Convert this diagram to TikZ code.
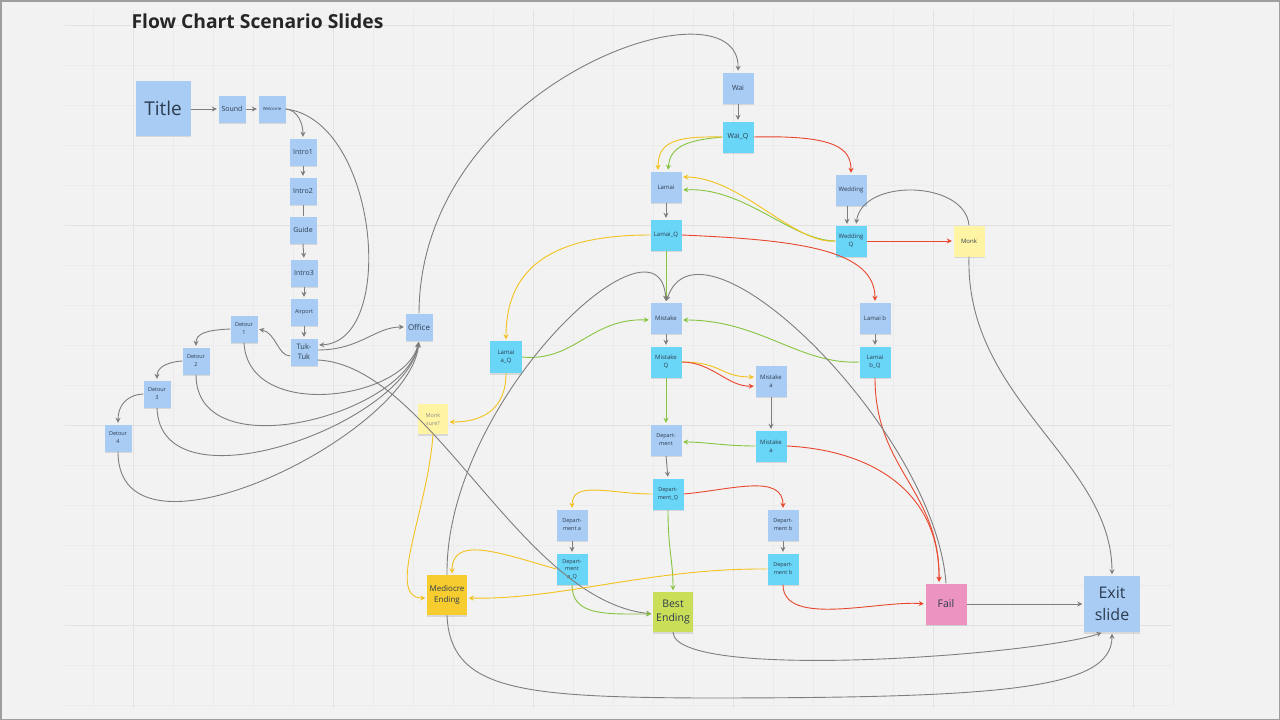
\documentclass[tikz,border=0pt]{standalone}
\usepackage{fontspec}
\setmainfont{Open Sans}
\usetikzlibrary{arrows.meta,shadows}
\definecolor{bgc}{HTML}{F2F2F2}
\definecolor{gminor}{HTML}{EBEBEB}
\definecolor{gmajor}{HTML}{E2E2E2}
\definecolor{cblue}{HTML}{A9CCF4}
\definecolor{ccyan}{HTML}{6AD6F7}
\definecolor{cpale}{HTML}{FFF4A3}
\definecolor{cgold}{HTML}{F6CC2E}
\definecolor{clime}{HTML}{CBDE58}
\definecolor{cpink}{HTML}{EC94BF}
\definecolor{ctext}{HTML}{2C3C50}
\definecolor{cgray}{HTML}{7E7E7E}
\definecolor{cyel}{HTML}{F4C21C}
\definecolor{cgrn}{HTML}{86C440}
\definecolor{cred}{HTML}{E8472D}
\tikzset{
  note/.style={rectangle, inner sep=0pt, minimum size=31pt, align=center,
    text=ctext, font=\fontsize{6}{7.5}\selectfont,
    drop shadow={shadow xshift=0.4pt,shadow yshift=-1.6pt,opacity=0.22}},
  bnote/.style={note, fill=cblue},
  cnote/.style={note, fill=ccyan},
  pnote/.style={note, fill=cpale},
  conn/.style={line width=0.9pt, shorten >=1.5pt, -{Stealth[length=5pt,width=5pt]}},
  gar/.style={conn, draw=cgray},
  yar/.style={conn, draw=cyel},
  nar/.style={conn, draw=cgrn},
  rar/.style={conn, draw=cred},
}
\begin{document}
\begin{tikzpicture}[x=1pt,y=-1pt]
\fill[bgc] (0,0) rectangle (1280,720);
\useasboundingbox (0,0) rectangle (1280,720);
% grid
\foreach \x in {93,133,...,1173} \draw[gminor, line width=0.5pt] (\x,10) -- (\x,708);
\foreach \y in {25,65,...,705} \draw[gminor, line width=0.5pt] (65,\y) -- (1172,\y);
\foreach \x in {133,333,...,1133} \draw[gmajor, line width=0.7pt] (\x,10) -- (\x,708);
\foreach \y in {25,225,425,625} \draw[gmajor, line width=0.7pt] (65,\y) -- (1172,\y);
\draw[black!38, line width=1.5pt] (0.75,0.75) rectangle (1279.25,719.25);

\node[anchor=west, font=\bfseries\fontsize{19.3}{22}\selectfont, text=black!85] (heading) at (128,21) {Flow Chart Scenario Slides};

% left column
\node[bnote, minimum size=55pt, font=\fontsize{19}{22}\selectfont] (title) at (163,108) {Title};
\node[bnote, minimum size=27pt, font=\fontsize{7}{8}\selectfont] (sound) at (232,109) {Sound};
\node[bnote, minimum size=27pt, font=\fontsize{4.3}{5}\selectfont] (welcome) at (272,109) {Welcome};
\node[bnote, minimum size=27pt, font=\fontsize{7}{8}\selectfont] (intro1) at (303,152) {Intro1};
\node[bnote, minimum size=27pt, font=\fontsize{7}{8}\selectfont] (intro2) at (303,191) {Intro2};
\node[bnote, minimum size=27pt, font=\fontsize{7}{8}\selectfont] (guide) at (303,230) {Guide};
\node[bnote, minimum size=27pt, font=\fontsize{7}{8}\selectfont] (intro3) at (304,273) {Intro3};
\node[bnote, minimum size=27pt, font=\fontsize{5.5}{6.5}\selectfont] (airport) at (304,312) {Airport};
\node[bnote, minimum size=27pt, font=\fontsize{7.5}{10}\selectfont] (tuk) at (304,352) {Tuk-\\Tuk};
\node[bnote, minimum size=27pt, font=\fontsize{5.5}{8}\selectfont] (d1) at (244,329) {Detour\\1};
\node[bnote, minimum size=27pt, font=\fontsize{5.5}{8}\selectfont] (d2) at (196,361) {Detour\\2};
\node[bnote, minimum size=27pt, font=\fontsize{5.5}{8}\selectfont] (d3) at (157,394) {Detour\\3};
\node[bnote, minimum size=27pt, font=\fontsize{5.5}{8}\selectfont] (d4) at (118,438) {Detour\\4};
\node[bnote, minimum size=27pt, font=\fontsize{8}{9}\selectfont] (office) at (419,327) {Office};
\node[pnote, minimum size=30pt, font=\fontsize{5.5}{8}\selectfont, text=black!45] (msure) at (433,419) {Monk\\sure?};

% middle / right
\node[bnote, font=\fontsize{7}{8}\selectfont] (wai) at (738,88) {Wai};
\node[cnote, font=\fontsize{7}{8}\selectfont] (waiq) at (738,137) {Wai\_Q};
\node[bnote] (lamai) at (666,187) {Lamai};
\node[cnote] (lamaiq) at (666,235) {Lamai\_Q};
\node[bnote] (wedding) at (851,190) {Wedding};
\node[cnote, font=\fontsize{6}{8}\selectfont] (weddingq) at (851,241) {Wedding\\Q};
\node[pnote] (monk) at (969,241) {Monk};
\node[cnote, minimum size=32pt, font=\fontsize{6}{8}\selectfont] (laq) at (506,357) {Lamai\\a\_Q};
\node[bnote] (mistake) at (666,318) {Mistake};
\node[cnote, font=\fontsize{6}{8}\selectfont] (mistakeq) at (666,362) {Mistake\\Q};
\node[bnote, font=\fontsize{6}{8}\selectfont] (ma1) at (771,381) {Mistake\\a};
\node[cnote, font=\fontsize{6}{8}\selectfont] (ma2) at (771,446) {Mistake\\a};
\node[bnote, font=\fontsize{5.5}{8}\selectfont] (dep) at (666,440) {Depart-\\ment};
\node[cnote, font=\fontsize{5.5}{8}\selectfont] (depq) at (668,494) {Depart-\\ment\_Q};
\node[bnote, font=\fontsize{5.5}{8}\selectfont] (depa) at (572,525) {Depart-\\ment a};
\node[cnote, font=\fontsize{5.5}{7.5}\selectfont] (depaq) at (572,569) {Depart-\\ment\\a\_Q};
\node[bnote, font=\fontsize{5.5}{8}\selectfont] (depb) at (783,525) {Depart-\\ment b};
\node[cnote, font=\fontsize{5.5}{8}\selectfont] (depb2) at (783,569) {Depart-\\ment b};
\node[bnote] (lamaib) at (875,318) {Lamai b};
\node[cnote, font=\fontsize{6}{8}\selectfont] (lamaibq) at (875,362) {Lamai\\b\_Q};
\node[note, fill=cgold, minimum size=40pt, font=\fontsize{8}{10.5}\selectfont] (mediocre) at (447,595) {Mediocre\\Ending};
\node[note, fill=clime, minimum size=40pt, font=\fontsize{10.5}{14}\selectfont] (best) at (673,612) {Best\\Ending};
\node[note, fill=cpink, minimum size=41pt, font=\fontsize{10.5}{12}\selectfont] (fail) at (946,604) {Fail};
\node[bnote, minimum size=56pt, font=\fontsize{16}{22}\selectfont] (exit) at (1112,604) {Exit\\slide};

% ---------- gray connectors
\draw[gar] (title.east|-sound.west) -- (sound.west);
\draw[gar] (sound.east) -- (welcome.west);
\draw[gar] (welcome.east) .. controls (298,110) and (303,124) .. (intro1.north);
\draw[gar] (welcome.east) .. controls (378,120) and (398,342) .. ([yshift=7pt]tuk.east);
\draw[gar] (intro1.south) -- (intro2.north);
\draw[cgray, line width=0.9pt] (intro2.south) -- (guide.north);
\draw[gar] (guide.south) -- (intro3.north);
\draw[gar] (intro3.south) -- (airport.north);
\draw[gar] (airport.south) -- (tuk.north);
\draw[gar] ([yshift=2pt]tuk.east) .. controls (360,350) and (375,327) .. (office.west);
\draw[gar] ([yshift=-4pt]tuk.west) .. controls (278,356) and (276,333) .. (d1.east);
\draw[gar] (d1.west) .. controls (205,330) and (196,334) .. (d2.north);
\draw[gar] (d2.west) .. controls (166,362) and (157,368) .. (d3.north);
\draw[gar] (d3.west) .. controls (126,395) and (118,406) .. (d4.north);
\draw[gar] (d1.south) .. controls (248,422) and (405,400) .. (office.south);
\draw[gar] (d2.south) .. controls (196,470) and (405,415) .. (office.south);
\draw[gar] (d3.south) .. controls (160,512) and (405,425) .. (office.south);
\draw[gar] (d4.south) .. controls (118,578) and (410,435) .. (office.south);
\draw[gar] (office.north) .. controls (420,80) and (740,-25) .. (wai.north);
\draw[gar] ([yshift=-8pt]tuk.east) .. controls (430,365) and (520,600) .. ([yshift=-2pt]best.west);
\draw[gar] (wai.south) -- (waiq.north);
\draw[gar] (lamai.south) -- (lamaiq.north);
\draw[gar] ([xshift=-4pt]wedding.south) -- ([xshift=-4pt]weddingq.north);
\draw[gar] (monk.north) .. controls (965,180) and (862,178) .. ([xshift=5pt]weddingq.north);
\draw[gar] (monk.south) .. controls (965,400) and (1112,460) .. (exit.north);
\draw[gar] (mistake.south) -- (mistakeq.north);
\draw[gar] (ma1.south) -- (ma2.north);
\draw[gar] (dep.south) -- (depq.north);
\draw[gar] (depa.south) -- (depaq.north);
\draw[gar] (depb.south) -- (depb2.north);
\draw[gar] (lamaib.south) -- (lamaibq.north);
\draw[gar] (fail.east) -- (exit.west);
\draw[gar] (best.south) .. controls (675,682) and (1040,655) .. ([xshift=-9pt]exit.south);
\draw[gar] (mediocre.south) .. controls (450,690) and (520,697) .. (700,698) .. controls (1000,698) and (1112,690) .. (exit.south);

% ---------- green connectors
\draw[nar] (lamaiq.south) -- (mistake.north);
\draw[nar] (waiq.west) .. controls (690,140) and (670,145) .. ([xshift=2pt]lamai.north);
\draw[nar] (weddingq.west) .. controls (790,240) and (745,187) .. ([yshift=-3pt]lamai.east);
\draw[nar] (laq.east) .. controls (575,362) and (590,318) .. ([yshift=-2pt]mistake.west);
\draw[nar] (lamaibq.west) .. controls (800,365) and (760,320) .. ([yshift=-2pt]mistake.east);
\draw[nar] (mistakeq.south) -- (dep.north);
\draw[nar] (ma2.west) .. controls (725,446) and (705,442) .. ([yshift=-2pt]dep.east);
\draw[nar] (depq.south) .. controls (668,550) and (673,560) .. (best.north);
\draw[nar] (depaq.south) .. controls (572,616) and (605,614) .. ([yshift=-2pt]best.west);

% ---------- yellow connectors
\draw[yar] (waiq.west) .. controls (675,136) and (658,142) .. ([xshift=-8pt]lamai.north);
\draw[yar] (weddingq.west) .. controls (795,245) and (740,177) .. ([yshift=10pt]lamai.east);
\draw[yar] (lamaiq.west) .. controls (560,235) and (506,262) .. (laq.north);
\draw[yar] (laq.south) .. controls (506,410) and (482,422) .. ([yshift=-3pt]msure.east);
\draw[yar] (msure.south) .. controls (428,510) and (385,598) .. ([yshift=-3pt]mediocre.west);
\draw[yar] (mistakeq.east) .. controls (722,362) and (720,377) .. ([yshift=4pt]ma1.west);
\draw[yar] (depq.west) .. controls (610,494) and (572,480) .. (depa.north);
\draw[yar] (depaq.west) .. controls (500,553) and (452,535) .. ([xshift=5pt]mediocre.north);
\draw[yar] (depb2.west) .. controls (650,568) and (560,600) .. ([yshift=-3pt]mediocre.east);

% ---------- red connectors
\draw[rar] (waiq.east) .. controls (835,135) and (851,148) .. (wedding.north);
\draw[rar] (weddingq.east) -- (monk.west);
\draw[rar] (lamaiq.east) .. controls (800,240) and (875,250) .. (lamaib.north);
\draw[rar] (mistakeq.east) .. controls (712,362) and (728,387) .. ([yshift=-5pt]ma1.west);
\draw[rar] (depq.east) .. controls (730,490) and (783,473) .. (depb.north);
\draw[rar] (lamaibq.south) .. controls (875,470) and (940,490) .. ([xshift=-7pt]fail.north);
\draw[rar] (ma2.east) .. controls (870,450) and (940,490) .. ([xshift=-7pt]fail.north);
\draw[rar] (depb2.south) .. controls (783,628) and (880,600) .. (fail.west);

% ---------- long gray loops into Mistake
\draw[gar] (mediocre.north) .. controls (445,400) and (660,200) .. (mistake.north);
\draw[gar] (fail.north) .. controls (935,430) and (700,200) .. (mistake.north);
\end{tikzpicture}
\end{document}
